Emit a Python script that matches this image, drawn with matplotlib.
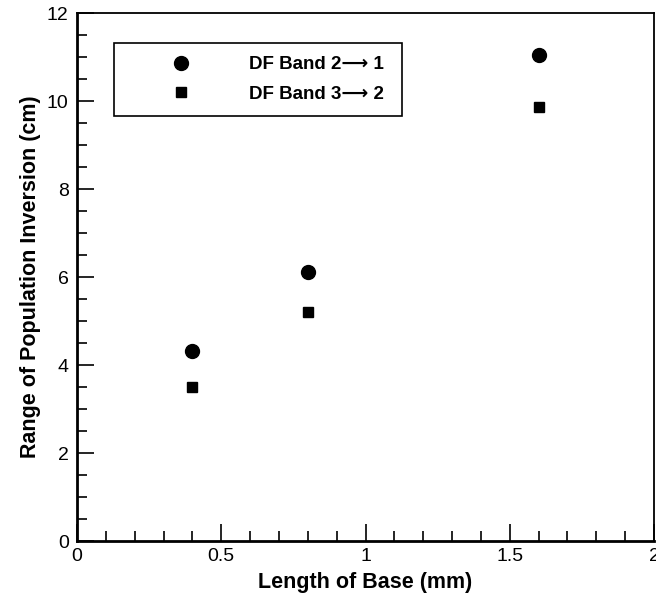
import matplotlib.pyplot as plt
from matplotlib.ticker import MultipleLocator

# base length (mm) and range of population inversion (cm)
base = [0.4, 0.8, 1.6]
band21 = [4.32, 6.11, 11.05]
band32 = [3.50, 5.20, 9.86]

labels = ["DF Band 2\u27f6 1", "DF Band 3\u27f6 2"]

plt.rcParams['font.family'] = ['Liberation Sans', 'DejaVu Sans']

fig = plt.figure(figsize=(6.56, 6.01), dpi=100)
ax = fig.add_axes([0.1174, 0.0998, 0.8796, 0.8785])

ax.plot(base, band21, 'o', color='black', markersize=10, label=labels[0])
ax.plot(base, band32, 's', color='black', markersize=7, label=labels[1])

ax.set_xlim(0, 2)
ax.set_ylim(0, 12)
ax.xaxis.set_major_locator(MultipleLocator(0.5))
ax.xaxis.set_minor_locator(MultipleLocator(0.1))
ax.yaxis.set_major_locator(MultipleLocator(2))
ax.yaxis.set_minor_locator(MultipleLocator(0.5))
ax.xaxis.set_major_formatter(lambda v, p: f"{v:g}")

ax.tick_params(which='both', direction='in', top=False, right=False,
               labelsize=14, width=1.2)
ax.tick_params(which='major', length=12)
ax.tick_params(which='minor', length=7)
ax.tick_params(axis='x', pad=5)
ax.tick_params(axis='y', pad=6)

for s in ax.spines.values():
    s.set_linewidth(1.3)
ax.spines['left'].set_linewidth(2)
ax.spines['bottom'].set_linewidth(2)

ax.set_xlabel("Length of Base (mm)", fontsize=15.5, fontweight='bold', labelpad=5)
ax.set_ylabel("Range of Population Inversion (cm)", fontsize=15.5,
              fontweight='bold', labelpad=4)

leg = ax.legend(loc='upper left', bbox_to_anchor=(0.064, 0, 0.499, 0.943),
                mode='expand', borderaxespad=0,
                prop={'weight': 'bold', 'size': 13.5},
                fancybox=False, edgecolor='black', framealpha=1,
                borderpad=0.7, handlelength=5.75, handletextpad=0.75,
                labelspacing=0.64, numpoints=1)
leg.get_frame().set_linewidth(1.2)

fig.savefig('out.png', dpi=100)
